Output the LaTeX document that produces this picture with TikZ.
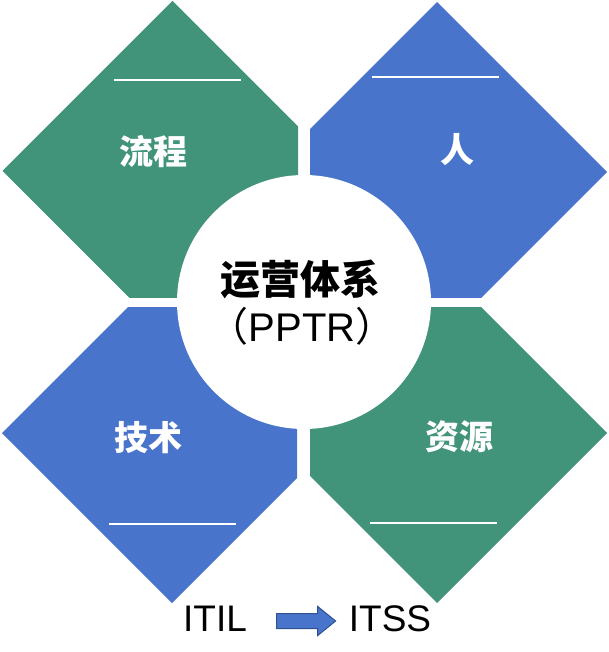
\documentclass[tikz,border=0pt]{standalone}
\usepackage{fontspec}
\setmainfont{Liberation Sans}
\newfontfamily\cjk{Noto Sans CJK SC}
\usepackage{tikz}
\usepackage{xcolor}
\usetikzlibrary{shapes.arrows}
\definecolor{petalgreen}{HTML}{41937A}
\definecolor{petalblue}{HTML}{4874CB}
\definecolor{arrowedge}{HTML}{2F528F}

\begin{document}
\begin{tikzpicture}[x=1pt,y=-1pt,
        petal/.style={text=white,font=\cjk\bfseries\fontsize{34}{40}\selectfont},
        rule/.style={white,line width=2pt},
        tag/.style={font=\fontsize{37}{44}\selectfont,inner sep=0pt}]
        \useasboundingbox[fill=white] (0,0) rectangle (608,652);
        % four petals, each clipped to its own quarter
        \begin{scope}
            \clip (0,0) rectangle (298,297);
            \fill[petalgreen] (2.5,171) -- (172.5,1) -- (342.5,171) -- (172.5,341) -- cycle;
            \draw[rule] (114,80) -- (241,80);
        \end{scope}
        \begin{scope}
            \clip (310,0) rectangle (608,297);
            \fill[petalblue] (267,172) -- (437,2) -- (607,172) -- (437,342) -- cycle;
            \draw[rule] (372,77) -- (499,77);
        \end{scope}
        \begin{scope}
            \clip (0,307) rectangle (297,652);
            \fill[petalblue] (2,433) -- (172,263) -- (342,433) -- (172,603) -- cycle;
            \draw[rule] (109,524) -- (236,524);
        \end{scope}
        \begin{scope}
            \clip (310,307) rectangle (608,652);
            \fill[petalgreen] (267,433) -- (437,263) -- (607,433) -- (437,603) -- cycle;
            \draw[rule] (370,523) -- (497,523);
        \end{scope}
        \fill[white] (304,302) circle[radius=127pt];
        \node[petal] (process) at (153,152) {流程};
        \node[petal] (people) at (457,150) {人};
        \node[petal] (tech) at (148,438) {技术};
        \node[petal] (resource) at (459,437) {资源};
        \node[font=\cjk\bfseries\fontsize{40}{48}\selectfont] (ops) at (300,279) {运营体系};
        \node[font=\fontsize{40}{48}\selectfont] (pptr) at (302,326) {{\cjk （}PPTR{\cjk ）}};
        % ITIL -> ITSS
        \node[tag] (itil) at (215,619) {ITIL};
        \node[tag] (itss) at (390,619) {ITSS};
        \node[single arrow,draw=arrowedge,fill=petalblue,line width=1pt,inner sep=7pt,
            minimum height=59pt,single arrow head extend=7pt,
            single arrow tip angle=78] (shift) at (301.5,621) {};
\end{tikzpicture}
\end{document}
